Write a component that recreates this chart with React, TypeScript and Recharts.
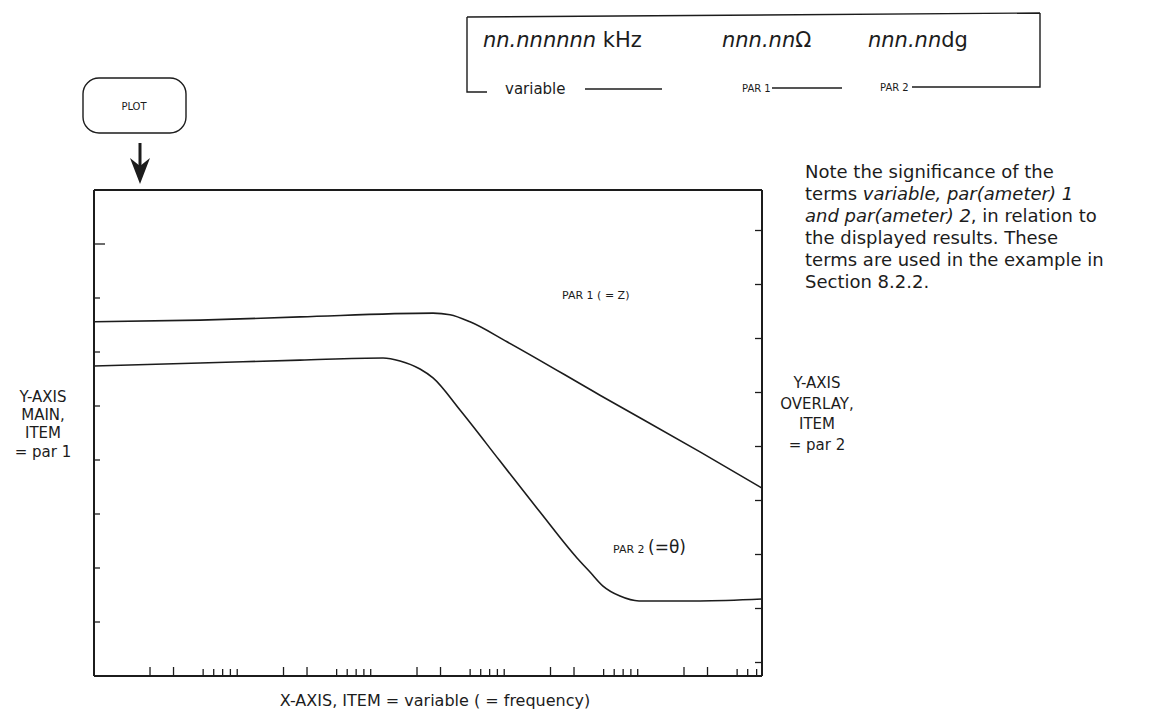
import React from "react";
import { LineChart, Line, XAxis, YAxis } from "recharts";

// x: frequency (log), left y: par 1 (Z), right y: par 2 (theta)
const freqTicks = [
  2, 3, 5, 6, 7, 8, 9,
  20, 30, 50, 60, 70, 80, 90,
  200, 300, 500, 600, 700, 800, 900,
  2000, 3000, 5000, 6000, 7000, 8000, 9000,
  20000, 30000, 50000, 60000, 70000,
];
const zTicks = [10, 20, 30, 40, 50, 60, 70, 80];
const thetaTicks = [-90, -70, -50, -30, -10, 10, 30, 50, 70];

const par1Freq = [0.761, 4.74, 26.6, 263.6, 353.4, 498.9, 944.4, 4695, 26360, 76790];
const par1Z = [65.6, 65.9, 66.5, 67.2, 66.9, 65.6, 61.9, 52.0, 41.5, 34.8];

const par2Freq = [0.761, 4.74, 26.6, 111.3, 149.2, 210.6, 263.6, 419.8, 837, 1669, 3158, 3953, 4946, 6631, 9204, 26360, 76790];
const par2Theta = [19.8, 20.9, 22.0, 22.8, 21.7, 18.7, 15.4, 3.5, -15.4, -34.3, -51.3, -56.5, -61.7, -65.4, -67.2, -67.2, -66.5];

const par1Data = par1Freq.map((f, i) => ({ f, z: par1Z[i] }));
const par2Data = par2Freq.map((f, i) => ({ f, theta: par2Theta[i] }));

const INK = "#1c1c1c";
const FONT = "'DejaVu Sans', sans-serif";

const BottomTick = (props: any) => {
  const { x, y, payload } = props;
  const lead = String(payload.value)[0];
  const len = lead === "2" || lead === "3" ? 9 : 7;
  return <line x1={x} y1={y} x2={x} y2={y - len} stroke={INK} strokeWidth={1.3} />;
};

const LeftTick = (props: any) => {
  const { x, y, payload } = props;
  const len = payload.value === 80 ? 11 : 6;
  return <line x1={x} y1={y} x2={x + len} y2={y} stroke={INK} strokeWidth={1.3} />;
};

const RightTick = (props: any) => {
  const { x, y } = props;
  return <line x1={x} y1={y} x2={x - 7} y2={y} stroke={INK} strokeWidth={1.3} />;
};

const Overlay = () => (
  <svg
    width={1157}
    height={717}
    style={{ position: "absolute", left: 0, top: 0, pointerEvents: "none" }}
    fontFamily={FONT}
    fill={INK}
  >
    {/* readout box */}
    <g stroke={INK} strokeWidth={1.4} fill="none">
      <path d="M467 17 L1040 13" />
      <path d="M467 17 L467 92 L487 92" />
      <path d="M585 89 L662 89" />
      <path d="M772 88 L842 88" />
      <path d="M912 87 L1040 87 L1040 13" />
    </g>
    <text x={483} y={47} fontSize={21}>
      <tspan fontStyle="italic">nn.nnnnnn</tspan> kHz
    </text>
    <text x={722} y={47} fontSize={21}>
      <tspan fontStyle="italic">nnn.nn</tspan>Ω
    </text>
    <text x={868} y={47} fontSize={21}>
      <tspan fontStyle="italic">nnn.nn</tspan>dg
    </text>
    <text x={505} y={94} fontSize={15}>variable</text>
    <text x={742} y={92} fontSize={10}>PAR 1</text>
    <text x={880} y={91} fontSize={10}>PAR 2</text>

    {/* PLOT key */}
    <rect x={83} y={78} width={103} height={55} rx={16} stroke={INK} strokeWidth={1.4} fill="none" />
    <text x={134} y={110} fontSize={10} textAnchor="middle">PLOT</text>
    <path d="M140 143 L140 170" stroke={INK} strokeWidth={3} />
    <path d="M130 158 L140 184 L150 158 L140 166 Z" fill={INK} />

    {/* curve labels */}
    <text x={562} y={299} fontSize={11}>PAR 1 ( = Z)</text>
    <text x={613} y={553}>
      <tspan fontSize={11}>PAR 2 </tspan>
      <tspan fontSize={17}>(=θ)</tspan>
    </text>

    {/* axis labels */}
    <text fontSize={15} textAnchor="middle">
      <tspan x={43} y={402}>Y-AXIS</tspan>
      <tspan x={43} y={420}>MAIN,</tspan>
      <tspan x={43} y={438}>ITEM</tspan>
      <tspan x={43} y={457}>= par 1</tspan>
    </text>
    <text fontSize={15} textAnchor="middle">
      <tspan x={817} y={388}>Y-AXIS</tspan>
      <tspan x={817} y={409}>OVERLAY,</tspan>
      <tspan x={817} y={429}>ITEM</tspan>
      <tspan x={817} y={450}>= par 2</tspan>
    </text>
    <text x={435} y={706} fontSize={16} textAnchor="middle">
      X-AXIS, ITEM = variable ( = frequency)
    </text>

    {/* note */}
    <text fontSize={18}>
      <tspan x={805} y={178}>Note the significance of the</tspan>
      <tspan x={805} y={200}>
        terms <tspan fontStyle="italic">variable, par(ameter) 1</tspan>
      </tspan>
      <tspan x={805} y={222}>
        <tspan fontStyle="italic">and par(ameter) 2</tspan>, in relation to
      </tspan>
      <tspan x={805} y={244}>the displayed results. These</tspan>
      <tspan x={805} y={266}>terms are used in the example in</tspan>
      <tspan x={805} y={288}>Section 8.2.2.</tspan>
    </text>
  </svg>
);

export default function App() {
  return (
    <div style={{ position: "absolute", left: 0, top: 0, width: 1157, height: 717, background: "#fff" }}>
      <LineChart
        width={1157}
        height={717}
        margin={{ top: 189, right: 394, bottom: 40, left: 93 }}
      >
        <XAxis
          xAxisId="f"
          dataKey="f"
          type="number"
          scale="log"
          domain={[0.761, 76790]}
          allowDataOverflow
          ticks={freqTicks}
          interval={0}
          height={1}
          tickSize={0}
          tickMargin={0}
          tickLine={false}
          tick={<BottomTick />}
          axisLine={{ stroke: INK, strokeWidth: 2 }}
        />
        <XAxis
          xAxisId="top"
          orientation="top"
          dataKey="f"
          type="number"
          scale="log"
          domain={[0.761, 76790]}
          allowDataOverflow
          height={1}
          tick={false}
          tickLine={false}
          axisLine={{ stroke: INK, strokeWidth: 2 }}
        />
        <YAxis
          yAxisId="z"
          type="number"
          domain={[0, 90]}
          ticks={zTicks}
          interval={0}
          width={1}
          tickSize={0}
          tickMargin={0}
          tickLine={false}
          tick={<LeftTick />}
          axisLine={{ stroke: INK, strokeWidth: 2 }}
        />
        <YAxis
          yAxisId="theta"
          orientation="right"
          type="number"
          domain={[-95, 85]}
          ticks={thetaTicks}
          interval={0}
          width={1}
          tickSize={0}
          tickMargin={0}
          tickLine={false}
          tick={<RightTick />}
          axisLine={{ stroke: INK, strokeWidth: 2 }}
        />
        <Line
          xAxisId="f"
          yAxisId="z"
          data={par1Data}
          dataKey="z"
          type="monotone"
          stroke={INK}
          strokeWidth={1.6}
          dot={false}
          isAnimationActive={false}
        />
        <Line
          xAxisId="f"
          yAxisId="theta"
          data={par2Data}
          dataKey="theta"
          type="monotone"
          stroke={INK}
          strokeWidth={1.6}
          dot={false}
          isAnimationActive={false}
        />
      </LineChart>
      <Overlay />
    </div>
  );
}
